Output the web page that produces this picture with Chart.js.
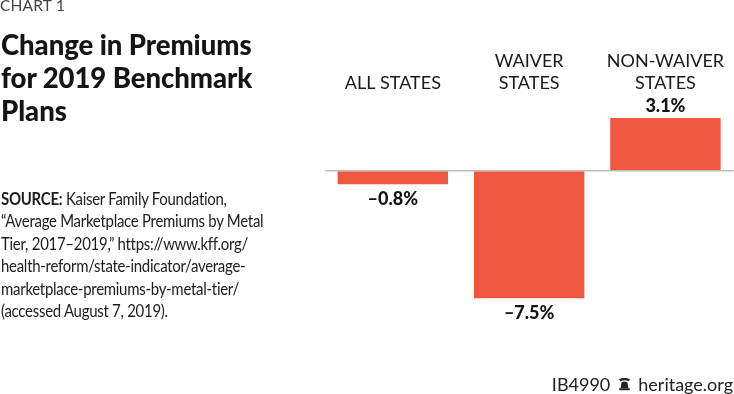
<!DOCTYPE html>
<html><head><meta charset="utf-8">
<script src="https://cdn.jsdelivr.net/npm/chart.js@4"></script>
<style>
html,body{margin:0;padding:0;background:#fff;width:734px;height:394px;overflow:hidden}
#wrap{position:relative;width:734px;height:394px}
canvas{position:absolute;left:0;top:0}
.t{position:absolute;white-space:pre;color:#111}
#chartno{left:0;top:-5px;font:400 15.5px/20px Lato;color:#444;letter-spacing:.2px}
#title{left:1px;top:28px;font:900 27.5px/33px Lato;color:#141414;letter-spacing:-.05px}
#source{left:1px;top:188px;font:400 16.5px/22.4px Lato;color:#1c1c1c;letter-spacing:-.3px;transform:scaleX(.907);transform-origin:0 0}
#source b{font-weight:700}
#foot{right:1px;top:373px;font:400 18px/22px Lato;color:#222;display:flex;align-items:center}
#foot svg{margin:0 7px 0 8px}
</style></head>
<body><div id="wrap">
<canvas id="c" width="734" height="394"></canvas>
<div class="t" id="chartno">CHART 1</div>
<div class="t" id="title">Change in Premiums
for 2019 Benchmark
Plans</div>
<div class="t" id="source"><b>SOURCE:</b> Kaiser Family Foundation,
“Average Marketplace Premiums by Metal
Tier, 2017–2019,” https://www.kff.org/
health-reform/state-indicator/average-
marketplace-premiums-by-metal-tier/
(accessed August 7, 2019).</div>
<div class="t" id="foot"><span>IB4990</span><svg width="13" height="14" viewBox="0 0 13 14"><path d="M1 2.5C4 .6 9 .6 12 2.5L10.6 4.2C8 3 5 3 2.4 4.2Z" fill="#222"/><path d="M3.6 5.2C5.4 4.4 7.6 4.4 9.4 5.2L10.4 11H2.6Z" fill="#222"/><rect x="1.2" y="11.2" width="10.6" height="2" fill="#222"/></svg><span>heritage.org</span></div>
</div>
<script>
const categories = [["ALL STATES"], ["WAIVER","STATES"], ["NON-WAIVER","STATES"]];
const values = [-0.8, -7.5, 3.1];
const labelTexts = ["–0.8%", "–7.5%", "3.1%"];

const valueLabels = {
  id: 'valueLabels',
  afterDatasetsDraw(chart) {
    const {ctx} = chart;
    const meta = chart.getDatasetMeta(0);
    ctx.save();
    ctx.font = '900 18px Lato';
    ctx.fillStyle = '#141414';
    ctx.textAlign = 'center';
    ctx.textBaseline = 'middle';
    meta.data.forEach((bar, i) => {
      const off = values[i] < 0 ? 14.5 : -11.5;
      ctx.fillText(labelTexts[i], bar.x, bar.y + off);
    });
    ctx.restore();
  }
};

new Chart(document.getElementById('c'), {
  type: 'bar',
  data: { labels: categories, datasets: [{ data: values, backgroundColor: '#f15641', barPercentage: 0.81, categoryPercentage: 1 }] },
  plugins: [valueLabels],
  options: {
    responsive: false, animation: false,
    layout: { padding: { left: 324.7, right: 0.4, top: 0, bottom: 53.3 } },
    plugins: { legend: { display: false }, tooltip: { enabled: false } },
    scales: {
      x: {
        position: 'top',
        afterFit(s) { s.height = 94.2; },
        grid: { display: false, drawTicks: false },
        border: { display: false },
        ticks: { color: '#1a1a1a', font: { family: 'Lato', size: 18, lineHeight: 1.22 }, padding: 0, maxRotation: 0 }
      },
      y: {
        min: -10, max: 4.5,
        display: true,
        afterFit(s) { s.width = 0; },
        grid: { color: c => c.tick && c.tick.value === 0 ? '#bdbdbd' : 'rgba(0,0,0,0)', lineWidth: 1.5, drawTicks: false },
        border: { display: false },
        ticks: { display: false, stepSize: 1 }
      }
    }
  }
});
</script>
</body></html>
